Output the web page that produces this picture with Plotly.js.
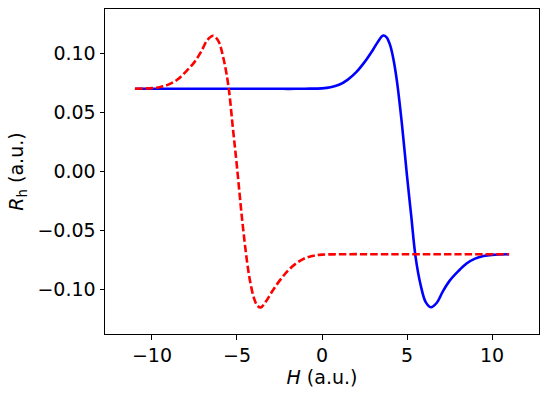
<!DOCTYPE html>
<html>
<head>
<meta charset="utf-8">
<script src="https://cdn.plot.ly/plotly-3.0.1.min.js"></script>
<style>
  body { margin: 0; background: #fff; }
  #chart { width: 548px; height: 397px; }
</style>
</head>
<body>
<div id="chart"></div>
<script>
// Values
var h_up = [-11, -8, -5, -3, -2, -1, 0, 0.5, 1, 1.5, 2, 2.5, 3, 3.3, 3.6, 3.8, 4.0, 4.2, 4.4, 4.7,
            5.0, 5.25, 5.5, 5.8, 6.1, 6.4, 6.75, 7.1, 7.5, 8.0, 8.5, 9.0, 9.5, 10, 11];
var r_up = [0.070, 0.070, 0.070, 0.070, 0.0699, 0.0700, 0.0703, 0.0712, 0.0733, 0.0775, 0.0838, 0.0925,
            0.1030, 0.1100, 0.1150, 0.1135, 0.1070, 0.0950, 0.0770, 0.0400,
            -0.0040, -0.0380, -0.0720, -0.0960, -0.1105, -0.1148, -0.1110, -0.1015, -0.0925, -0.0845,
            -0.0778, -0.0737, -0.0715, -0.0705, -0.0700];

var h_down = [-11, -10, -9.5, -9.0, -8.5, -8.0, -7.5, -7.1, -6.75, -6.4, -6.1, -5.8, -5.5, -5.25, -5.0,
              -4.7, -4.4, -4.2, -4.0, -3.8, -3.6, -3.3, -3, -2.5, -2, -1.5, -1, -0.5, 0, 1, 2, 3, 5, 8, 11];
var r_down = [0.0700, 0.0705, 0.0715, 0.0737, 0.0778, 0.0845, 0.0925, 0.1015, 0.1110, 0.1148, 0.1105,
              0.0960, 0.0720, 0.0380, 0.0040, -0.0400, -0.0770, -0.0950, -0.1070, -0.1135, -0.1150,
              -0.1100, -0.1030, -0.0925, -0.0838, -0.0775, -0.0733, -0.0712, -0.0703, -0.0700, -0.0699,
              -0.070, -0.070, -0.070, -0.070];

var x_ticks = [-10, -5, 0, 5, 10];
var y_ticks = [-0.10, -0.05, 0.00, 0.05, 0.10];
var y_labels = ["\u22120.10", "\u22120.05", "0.00", "0.05", "0.10"];

var font = { family: "DejaVu Sans", size: 19, color: "#000" };

var up = {
    x: h_up, y: r_up,
    type: "scatter", mode: "lines",
    line: { color: "#0000ff", width: 2.6, shape: "spline", smoothing: 1 }
};
var down = {
    x: h_down, y: r_down,
    type: "scatter", mode: "lines",
    line: { color: "#ff0000", width: 2.6, dash: "7.5px,3px", shape: "spline", smoothing: 1 }
};

var axis = {
    showgrid: false, zeroline: false,
    showline: true, mirror: true, linecolor: "#000", linewidth: 1,
    ticks: "outside", ticklen: 4.5, tickwidth: 1, tickcolor: "#000",
    tickfont: font
};

var layout = {
    width: 548,
    height: 397,
    margin: { l: 104.5, r: 9, t: 8.5, b: 62.7 },
    paper_bgcolor: "#fff",
    plot_bgcolor: "#fff",
    showlegend: false,
    font: font,
    xaxis: Object.assign({}, axis, {
        range: [-12.76, 12.76],
        tickmode: "array", tickvals: x_ticks,
        title: { text: "<i>H</i> (a.u.)", font: font, standoff: 4 }
    }),
    yaxis: Object.assign({}, axis, {
        range: [-0.1374, 0.1374],
        tickmode: "array", tickvals: y_ticks, ticktext: y_labels,
        title: { text: "<i>R</i><sub>h</sub> (a.u.)", font: font, standoff: 8 }
    })
};

Plotly.newPlot("chart", [up, down], layout, { displayModeBar: false, staticPlot: true });
</script>
</body>
</html>
